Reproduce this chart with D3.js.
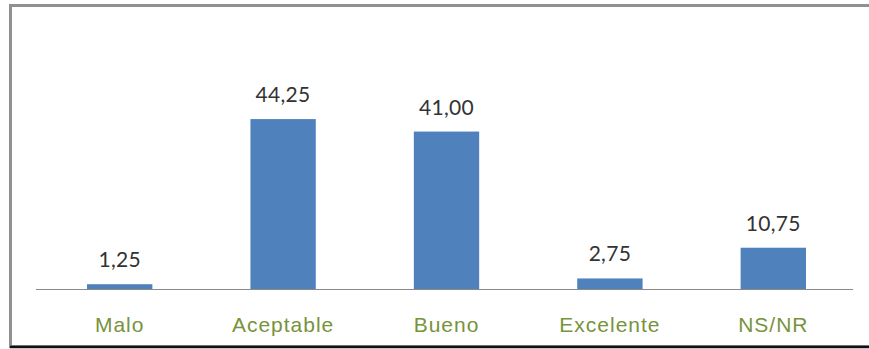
<!DOCTYPE html>
<html>
<head>
<meta charset="utf-8">
<script src="https://cdn.jsdelivr.net/npm/d3@7"></script>
<style>
  body { margin: 0; background: #fff; }
  svg { display: block; }
</style>
</head>
<body>
<svg id="chart" width="869" height="349"></svg>
<script>
// Chart data
const categories = ["Malo", "Aceptable", "Bueno", "Excelente", "NS/NR"];
const values = [1.25, 44.25, 41.00, 2.75, 10.75];

const svg = d3.select("#chart");

// Frame around the chart
svg.append("rect")
    .attr("x", 10.5)
    .attr("y", 5.5)
    .attr("width", 880)
    .attr("height", 341)
    .attr("fill", "#fff")
    .attr("stroke", "#909090")
    .attr("stroke-width", 3);

svg.append("line")
    .attr("x1", 10)
    .attr("x2", 869)
    .attr("y1", 347)
    .attr("y2", 347)
    .attr("stroke", "#111")
    .attr("stroke-width", 2.5);

const xScale = d3.scaleBand()
    .domain(categories)
    .range([38, 855])
    .paddingInner(0.6)
    .paddingOuter(0.3);

const yScale = d3.scaleLinear()
    .domain([0, 50])
    .range([289, 97]);

const fmt = v => d3.format(".2f")(v).replace(".", ",");

// Bars
svg.selectAll(".bar")
    .data(values)
    .enter()
    .append("rect")
    .attr("class", "bar")
    .attr("x", (_, i) => xScale(categories[i]))
    .attr("y", d => yScale(d))
    .attr("width", xScale.bandwidth())
    .attr("height", d => yScale(0) - yScale(d))
    .attr("fill", "#4f81bd");

// Baseline
svg.append("line")
    .attr("x1", 36)
    .attr("x2", 853)
    .attr("y1", yScale(0) + 0.5)
    .attr("y2", yScale(0) + 0.5)
    .attr("stroke", "#8a8a8a")
    .attr("stroke-width", 1);

// Value labels
svg.selectAll(".val")
    .data(values)
    .enter()
    .append("text")
    .attr("class", "val")
    .attr("x", (_, i) => xScale(categories[i]) + xScale.bandwidth() / 2)
    .attr("y", d => yScale(d) - 17)
    .attr("text-anchor", "middle")
    .attr("font-family", "Lato, 'Open Sans', sans-serif")
    .attr("font-size", "21px")
    .attr("letter-spacing", "0.3px")
    .attr("fill", "#333")
    .text(d => fmt(d));

// Category labels
svg.selectAll(".cat")
    .data(categories)
    .enter()
    .append("text")
    .attr("class", "cat")
    .attr("x", d => xScale(d) + xScale.bandwidth() / 2)
    .attr("y", 332)
    .attr("text-anchor", "middle")
    .attr("font-family", "'Liberation Sans', Arial, sans-serif")
    .attr("font-size", "21px")
    .attr("letter-spacing", "1px")
    .attr("fill", "#77933c")
    .text(d => d);
</script>
</body>
</html>
